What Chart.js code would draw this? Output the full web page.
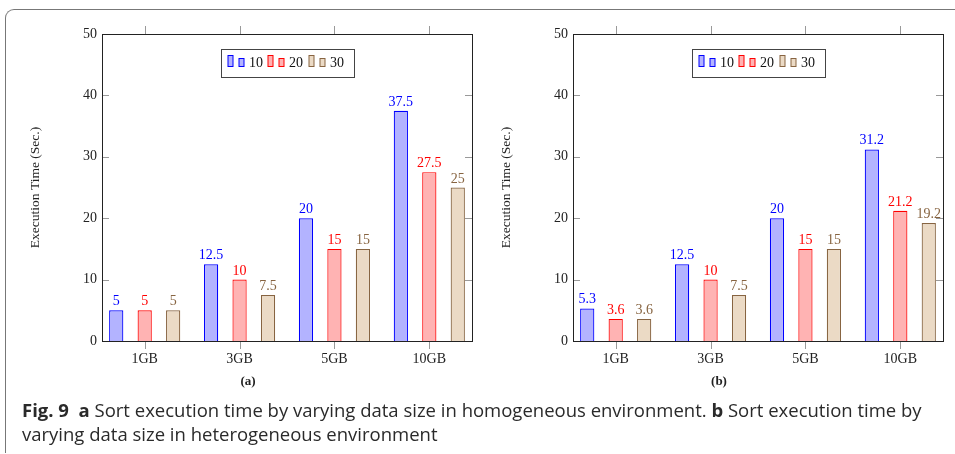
<!DOCTYPE html>
<html>
<head>
<meta charset="utf-8">
<script src="https://cdn.jsdelivr.net/npm/chart.js@4"></script>
<style>
body{margin:0;background:#fff;width:955px;height:454px;overflow:hidden;position:relative;}
#frame{position:absolute;left:5px;top:9px;width:1000px;height:443px;border-top:1.5px solid #777;border-left:1.5px solid #777;border-top-left-radius:9px;}
canvas{position:absolute;top:0;}
#chartA{left:0;}
#chartB{left:471px;}
#caption{position:absolute;left:22px;top:398px;font-family:"Open Sans";font-size:18.5px;line-height:24px;color:#2a2a2a;white-space:nowrap;}
</style>
</head>
<body>
<div id="frame"></div>
<canvas id="chartA" width="478" height="400"></canvas>
<canvas id="chartB" width="478" height="400"></canvas>
<div id="caption"><b>Fig. 9</b>&nbsp;&nbsp;<b>a</b> Sort execution time by varying data size in homogeneous environment. <b>b</b> Sort execution time by<br>varying data size in heterogeneous environment</div>
<script>
// DATA
var categories = ['1GB', '3GB', '5GB', '10GB'];
var seriesNames = ['10', '20', '30'];
var yTicks = [0, 10, 20, 30, 40, 50];

// (a) homogeneous
var homo10 = [5, 12.5, 20, 37.5];
var homo20 = [5, 10, 15, 27.5];
var homo30 = [5, 7.5, 15, 25];

// (b) heterogeneous
var hetero10 = [5.3, 12.5, 20, 31.2];
var hetero20 = [3.6, 10, 15, 21.2];
var hetero30 = [3.6, 7.5, 15, 19.2];

var fills = ['rgb(179,179,255)', 'rgb(255,179,179)', 'rgb(235,218,197)'];
var lines = ['rgb(0,0,255)', 'rgb(255,0,0)', 'rgb(135,100,65)'];
var serif = 'Liberation Serif';

// ticks, box, value labels, legend, sub label
var framePlugin = {
  id: 'frame',
  afterDraw: function(chart) {
    var ctx = chart.ctx, a = chart.chartArea;
    var xs = chart.scales.x, ys = chart.scales.y;
    ctx.save();

    ctx.strokeStyle = '#999';
    ctx.lineWidth = 1;
    ctx.beginPath();
    yTicks.forEach(function(v) {
      var y = Math.round(ys.getPixelForValue(v)) + 0.5;
      ctx.moveTo(a.left, y); ctx.lineTo(a.left + 7, y);
      ctx.moveTo(a.right, y); ctx.lineTo(a.right - 7, y);
    });
    categories.forEach(function(c, i) {
      var x = Math.round(xs.getPixelForValue(i)) + 0.5;
      ctx.moveTo(x, a.bottom); ctx.lineTo(x, a.bottom + 8);
      ctx.moveTo(x, a.top); ctx.lineTo(x, a.top - 8);
    });
    ctx.stroke();

    ctx.strokeStyle = '#222';
    ctx.strokeRect(Math.round(a.left) + 0.5, Math.round(a.top) + 0.5, Math.round(a.right - a.left), Math.round(a.bottom - a.top));

    // value labels
    ctx.font = '14px "' + serif + '"';
    ctx.textAlign = 'center';
    ctx.textBaseline = 'alphabetic';
    chart.data.datasets.forEach(function(ds, k) {
      var meta = chart.getDatasetMeta(k);
      meta.data.forEach(function(bar, i) {
        ctx.fillStyle = ds.borderColor;
        ctx.fillText(String(ds.data[i].y), bar.x, bar.y - 5);
      });
    });

    // legend
    var cx = (a.left + a.right) / 2;
    var bl = Math.round(cx - 66.5) + 0.5, bt = Math.round(a.top + 15) + 0.5;
    ctx.fillStyle = '#fff';
    ctx.fillRect(bl, bt, 133, 28);
    ctx.strokeStyle = '#444';
    ctx.strokeRect(bl, bt, 133, 28);
    ctx.textAlign = 'left';
    chart.data.datasets.forEach(function(ds, k) {
      var x0 = Math.round(bl + 6 + k * 40.5);
      ctx.fillStyle = ds.backgroundColor;
      ctx.strokeStyle = ds.borderColor;
      ctx.fillRect(x0, bt + 6, 5, 11);
      ctx.strokeRect(x0, bt + 6, 5, 11);
      ctx.fillRect(x0 + 11, bt + 9, 5, 8);
      ctx.strokeRect(x0 + 11, bt + 9, 5, 8);
      ctx.fillStyle = '#111';
      ctx.fillText(ds.label, x0 + 21, bt + 17);
    });

    // sub label
    ctx.font = 'bold 13px "' + serif + '"';
    ctx.textAlign = 'center';
    ctx.textBaseline = 'middle';
    ctx.fillStyle = '#222';
    ctx.fillText(chart.options.plugins.frame.text, cx - 39, 382);
    ctx.restore();
  }
};

function makeChart(id, series, sub) {
  return new Chart(id, {
    type: 'bar',
    data: {
      datasets: series.map(function(vals, k) {
        return {
          label: seriesNames[k],
          data: vals.map(function(v, i) { return {x: i, y: v}; }),
          backgroundColor: fills[k],
          borderColor: lines[k],
          borderWidth: 1.2,
          categoryPercentage: 0.9,
          barPercentage: 0.5
        };
      })
    },
    options: {
      responsive: false,
      animation: false,
      devicePixelRatio: 1,
      layout: { padding: { top: 34, right: 6, left: 0, bottom: 0 } },
      plugins: {
        legend: { display: false },
        tooltip: { enabled: false },
        frame: { text: sub }
      },
      scales: {
        x: {
          type: 'linear',
          min: -0.45,
          max: 3.45,
          offset: false,
          grid: { display: false, drawTicks: false },
          border: { display: false },
          afterBuildTicks: function(s) { s.ticks = categories.map(function(c, i) { return {value: i}; }); },
          afterFit: function(s) { s.height = 59; },
          ticks: {
            padding: 10,
            maxRotation: 0,
            color: '#222',
            font: { family: serif, size: 14 },
            callback: function(v) { return categories[v]; }
          }
        },
        y: {
          min: 0,
          max: 50,
          grid: { display: false, drawTicks: false },
          border: { display: false },
          afterBuildTicks: function(s) { s.ticks = yTicks.map(function(v) { return {value: v}; }); },
          afterFit: function(s) { s.width = 102; },
          ticks: { padding: 5, color: '#222', font: { family: serif, size: 14 } },
          title: {
            display: true,
            text: 'Execution Time (Sec.)',
            color: '#222',
            font: { family: serif, size: 13.5 },
            padding: { top: 27, bottom: 0 }
          }
        }
      }
    },
    plugins: [framePlugin]
  });
}

makeChart('chartA', [homo10, homo20, homo30], '(a)');
makeChart('chartB', [hetero10, hetero20, hetero30], '(b)');
</script>
</body>
</html>
